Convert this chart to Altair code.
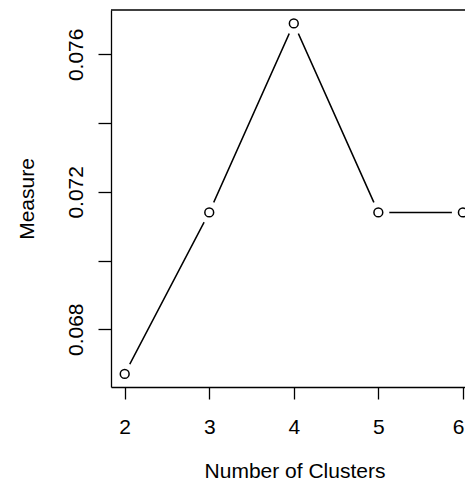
import altair as alt
import pandas as pd

# Data
clusters = [2, 3, 4, 5, 6]
measure = [0.0667, 0.0714, 0.0769, 0.0714, 0.0714]

x_ticks = [2, 3, 4, 5, 6]
y_ticks = [0.068, 0.070, 0.072, 0.074, 0.076]
y_labeled = ["0.068", "0.072", "0.076"]

df = pd.DataFrame({"clusters": clusters, "measure": measure})

FONT = "Liberation Sans"
FS = 21
W, H = 354, 377

x_scale = alt.Scale(domain=[1.838, 6.025], nice=False, zero=False)
y_scale = alt.Scale(domain=[0.06632, 0.07729], nice=False, zero=False)

lab_js = "[" + ",".join("'" + s + "'" for s in y_labeled) + "]"
y_label_expr = (
    f"indexof({lab_js}, format(datum.value, '.3f')) >= 0 ? format(datum.value, '.3f') : ''"
)

x_axis = alt.Axis(
    values=x_ticks,
    title="Number of Clusters",
    grid=False,
    domain=True,
    tickSize=12,
    labelPadding=34,
    labelBaseline="alphabetic",
    titleX=183.5,
    titleY=90,
    titleBaseline="alphabetic",
    titleAlign="center",
    labelOverlap=False,
    labelFlush=3,
    labelFlushOffset=1,
)
y_axis = alt.Axis(
    values=y_ticks,
    title="Measure",
    grid=False,
    domain=True,
    tickSize=13,
    labelAngle=270,
    labelAlign="center",
    labelBaseline="alphabetic",
    labelPadding=16,
    labelExpr=y_label_expr,
    labelOverlap=False,
    labelFlush=False,
    titleAngle=270,
    titleX=-78,
    titleY=188.5,
    titleAlign="center",
    titleBaseline="alphabetic",
)

base = alt.Chart(df).encode(
    x=alt.X("clusters:Q", scale=x_scale, axis=x_axis),
    y=alt.Y("measure:Q", scale=y_scale, axis=y_axis),
)

line = base.mark_line(color="black", strokeWidth=1.5)
gaps = base.mark_point(shape="circle", filled=True, color="white", opacity=1, size=484)
pts = base.mark_point(shape="circle", filled=False, color="black", strokeWidth=1.5, size=78, opacity=1)

# top edge of the plot frame (the right edge lies outside the picture)
frame_top = (
    alt.Chart(pd.DataFrame({"edge": [0]}))
    .mark_rule(color="black", strokeWidth=1.3)
    .encode(x=alt.value(0), x2=alt.value(W), y=alt.value(0))
)

chart = (
    alt.layer(line, gaps, pts, frame_top)
    .properties(
        width=W,
        height=H,
        autosize=alt.AutoSizeParams(type="none"),
        padding={"left": 103, "top": 2, "right": 0, "bottom": 96},
    )
    .configure_view(stroke=None)
    .configure_axis(
        labelFont=FONT,
        titleFont=FONT,
        labelFontSize=FS,
        titleFontSize=FS,
        labelColor="black",
        titleColor="black",
        tickColor="black",
        tickWidth=1.3,
        domainColor="black",
        domainWidth=1.3,
        titleFontWeight="normal",
        zindex=1,
    )
)

chart.save("out.html", embed_options={"renderer": "svg", "actions": False})
